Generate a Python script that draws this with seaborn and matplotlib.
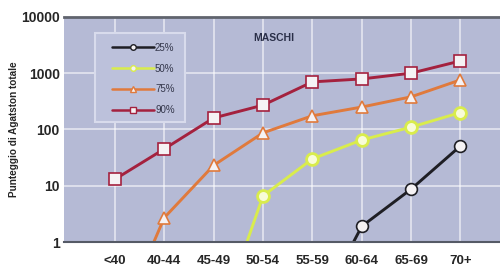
import pandas as pd
import matplotlib
matplotlib.use("Agg")
import matplotlib.pyplot as plt
import seaborn as sns
from matplotlib.lines import Line2D
from matplotlib.patches import Rectangle

# Dati
eta = ["<40", "40-44", "45-49", "50-54", "55-59", "60-64", "65-69", "70+"]
p25 = [None, None, None, None, 0.04, 1.9, 8.7, 51]
p50 = [None, None, 0.02, 6.6, 30, 65, 110, 200]
p75 = [0.024, 2.7, 23, 87, 175, 250, 380, 760]
p90 = [13, 45, 160, 270, 700, 790, 1000, 1650]
serie = ["25%", "50%", "75%", "90%"]

righe = []
for nome, valori in zip(serie, [p25, p50, p75, p90]):
    for i, v in enumerate(valori):
        if v is not None:
            righe.append({"pos": i, "valore": v, "percentile": nome})
df = pd.DataFrame(righe)

sns.set_style("white")
plt.rcParams["font.family"] = ["Liberation Sans", "DejaVu Sans"]

colori = {"25%": "#1e1e24", "50%": "#d9ec4c", "75%": "#e07a3c", "90%": "#a4213e"}
marcatori = {"25%": "o", "50%": "o", "75%": "^", "90%": "s"}

fig = plt.figure(figsize=(5, 2.68), dpi=100)
ax = fig.add_axes([0.128, 0.097, 0.872, 0.84])
ax.set_facecolor("#b5bad5")

sns.lineplot(data=df, x="pos", y="valore", hue="percentile", style="percentile",
             palette=colori, markers=marcatori, dashes=False, linewidth=2.1,
             markersize=8.5, markerfacecolor="#f5f2f4", markeredgewidth=1.2,
             ax=ax, legend=False)
for l in ax.lines:
    l.set_markeredgecolor(l.get_color())
    if l.get_color() == "#d9ec4c":
        l.set_markerfacecolor("#f8fcd8")
        l.set_markeredgewidth(2)

ax.set_yscale("log")
ax.set_ylim(1, 10000)
ax.set_xlim(-1.03, 7.8)
ax.set_xticks(range(len(eta)))
ax.set_xticklabels(eta)
ax.set_yticks([1, 10, 100, 1000, 10000])
ax.set_yticklabels(["1", "10", "100", "1000", "10000"])
ax.minorticks_off()
ax.grid(True, color="white", alpha=0.55, linewidth=1.4)
ax.set_axisbelow(True)

for lab in ax.get_xticklabels():
    lab.set_fontweight("bold")
    lab.set_fontsize(9.5)
for lab in ax.get_yticklabels():
    lab.set_fontweight("bold")
    lab.set_fontsize(10)
ax.tick_params(axis="x", length=2, pad=7, color="#555555")
ax.tick_params(axis="y", length=2, pad=1, color="#555555")

ax.set_xlabel("")
ax.set_ylabel("Punteggio di Agatston totale", fontsize=7.2, fontweight="bold")
ax.yaxis.set_label_coords(-0.103, 0.5)

for lato in ["left", "right"]:
    ax.spines[lato].set_visible(False)
ax.spines["bottom"].set_color("#555a66")
ax.spines["bottom"].set_linewidth(1.5)
ax.spines["top"].set_color("#60646e")
ax.spines["top"].set_linewidth(2)

ax.text(0.433, 0.929, "MASCHI", transform=ax.transAxes, fontsize=7.5,
        fontweight="bold", color="#2a2f48", va="top")

# Riquadro della legenda
ax.add_patch(Rectangle((0.071, 0.533), 0.2065, 0.396, transform=ax.transAxes,
                       facecolor="#bcc1db", edgecolor="#d8dbec", linewidth=1.5,
                       zorder=3))
maniglie = [Line2D([], [], color=colori[s], marker=marcatori[s], markersize=4,
                   markerfacecolor="#f5f2f4", markeredgecolor=colori[s], linewidth=1.8)
            for s in serie]
leg = ax.legend(maniglie, serie, loc="upper left", bbox_to_anchor=(0.095, 0.915),
                frameon=False, fontsize=7, handlelength=4.3, labelspacing=1.1,
                borderpad=0.2, handletextpad=0.1)
for t in leg.get_texts():
    t.set_color("#33364a")
leg.set_zorder(4)

fig.savefig("out.png", dpi=100)
plt.close()
